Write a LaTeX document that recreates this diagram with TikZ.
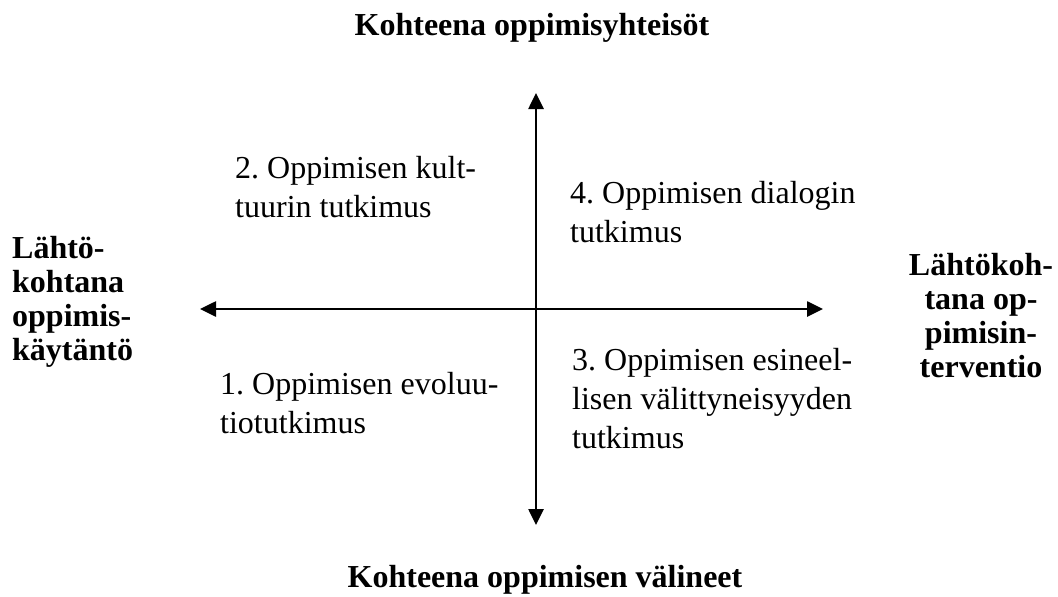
\documentclass[tikz,border=0pt]{standalone}
\usepackage{fontspec}
\setmainfont{Liberation Serif}
\usetikzlibrary{arrows.meta}
\frenchspacing
\begin{document}
\begin{tikzpicture}[x=1pt,y=-1pt,
  axis/.style={line width=2.6pt,{Triangle[length=16pt,width=15pt]}-{Triangle[length=16pt,width=15pt]}},
  title/.style={font=\fontsize{32}{34}\selectfont\bfseries,inner sep=0pt,anchor=base},
  side/.style={font=\fontsize{32}{34}\selectfont\bfseries,inner sep=0pt},
  quad/.style={font=\fontsize{32}{39}\selectfont,inner sep=0pt,align=left,anchor=base west}]
\useasboundingbox (0,0) rectangle (1058,597);
\coordinate (L) at (200,309);
\coordinate (R) at (823,309);
\coordinate (T) at (536,93);
\coordinate (B) at (536,525);
\draw[axis] (L) -- (R);
\draw[axis] (T) -- (B);
\node[title] (top) at (532,35) {Kohteena oppimisyhteisöt};
\node[title] (bottom) at (545,587) {Kohteena oppimisen välineet};
% multi-line nodes: base anchor is the baseline of the last line
\node[side,align=left,anchor=base west] (left) at (12,360) {Lähtö-\\kohtana\\oppimis-\\käytäntö};
\node[side,align=center,anchor=base] (right) at (981,377) {Lähtökoh-\\tana op-\\pimisin-\\terventio};
\node[quad] (q2) at (235,217) {2. Oppimisen kult-\\tuurin tutkimus};
\node[quad] (q4) at (570,242) {4. Oppimisen dialogin\\tutkimus};
\node[quad] (q1) at (220,433) {1. Oppimisen evoluu-\\tiotutkimus};
\node[quad] (q3) at (572,448) {3. Oppimisen esineel-\\lisen välittyneisyyden\\tutkimus};
\end{tikzpicture}
\end{document}
